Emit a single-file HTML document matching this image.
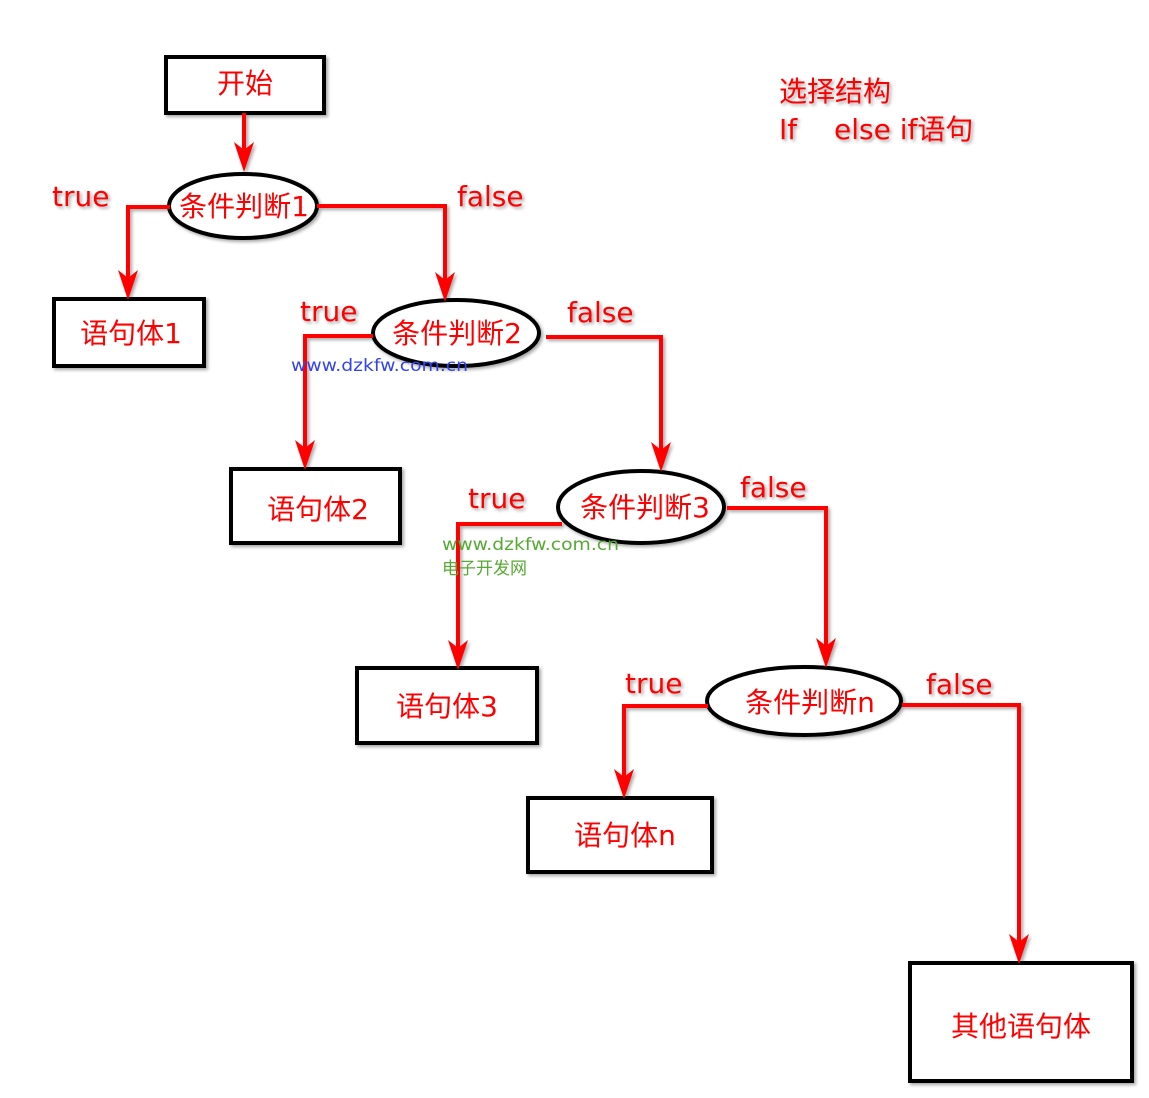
<!DOCTYPE html>
<html><head><meta charset="utf-8"><style>
html,body{margin:0;padding:0;background:#fff;}
svg{display:block;}
text{font-family:"DejaVu Sans","Noto Sans CJK SC",sans-serif;}
</style></head><body>
<svg width="1149" height="1098" viewBox="0 0 1149 1098" xmlns="http://www.w3.org/2000/svg">
<defs>
<filter id="s" x="-10%" y="-10%" width="130%" height="130%"><feDropShadow dx="2" dy="2" stdDeviation="1.5" flood-color="#000" flood-opacity="0.35"/></filter>
</defs>
<g filter="url(#s)">
<g fill="#fff" stroke="#000" stroke-width="4">
<rect x="166" y="57" width="158" height="56"/>
<rect x="54" y="299" width="150" height="67"/>
<rect x="231" y="469" width="169" height="74"/>
<rect x="357" y="668" width="180" height="75"/>
<rect x="528" y="798" width="184" height="74"/>
<rect x="910" y="963" width="222" height="118"/>
<ellipse cx="243" cy="206" rx="74" ry="32"/>
<ellipse cx="456" cy="333" rx="83" ry="33"/>
<ellipse cx="641" cy="507" rx="83" ry="36"/>
<ellipse cx="804" cy="701" rx="97" ry="34"/>
</g>
<g fill="none" stroke="#f00" stroke-width="4">
<path d="M244 113V150"/>
<path d="M170 207H128V278"/>
<path d="M317 206H445V280"/>
<path d="M373 336H305V448"/>
<path d="M546 337H661V450"/>
<path d="M562 524H458V648"/>
<path d="M727 508H826V646"/>
<path d="M708 706H624V777"/>
<path d="M902 705H1019V942"/>
</g>
<g fill="#f00">
<path d="M234 142L244 172L254 142L244 150Z"/>
<path d="M118 270L128 300L138 270L128 278Z"/>
<path d="M435 272L445 302L455 272L445 280Z"/>
<path d="M295 440L305 470L315 440L305 448Z"/>
<path d="M651 442L661 472L671 442L661 450Z"/>
<path d="M448 640L458 670L468 640L458 648Z"/>
<path d="M816 638L826 668L836 638L826 646Z"/>
<path d="M614 769L624 799L634 769L624 777Z"/>
<path d="M1009 934L1019 964L1029 934L1019 942Z"/>
</g>
<g fill="#f00" font-size="28">
<text x="245" y="93" text-anchor="middle">开始</text>
<text x="131" y="343" text-anchor="middle">语句体1</text>
<text x="318" y="519" text-anchor="middle">语句体2</text>
<text x="447" y="716" text-anchor="middle">语句体3</text>
<text x="625" y="845" text-anchor="middle">语句体n</text>
<text x="1021" y="1036" text-anchor="middle">其他语句体</text>
<text x="244" y="216" text-anchor="middle">条件判断1</text>
<text x="457" y="343" text-anchor="middle">条件判断2</text>
<text x="645" y="517" text-anchor="middle">条件判断3</text>
<text x="810" y="712" text-anchor="middle">条件判断n</text>
<text x="52" y="206">true</text>
<text x="457" y="206">false</text>
<text x="300" y="321">true</text>
<text x="567" y="322">false</text>
<text x="468" y="508">true</text>
<text x="740" y="497">false</text>
<text x="625" y="693">true</text>
<text x="926" y="694">false</text>
<text x="779" y="101">选择结构</text>
<text x="779" y="139">If <tspan x="834">else if语句</tspan></text>
</g>
</g>
<text x="291" y="371" font-size="17" fill="#3344ee" textLength="177" lengthAdjust="spacingAndGlyphs">www.dzkfw.com.cn</text>
<text x="442" y="550" font-size="17" fill="#55aa33" textLength="177" lengthAdjust="spacingAndGlyphs">www.dzkfw.com.cn</text>
<text x="442" y="574" font-size="17" fill="#55aa33">电子开发网</text>
</svg>
</body></html>
